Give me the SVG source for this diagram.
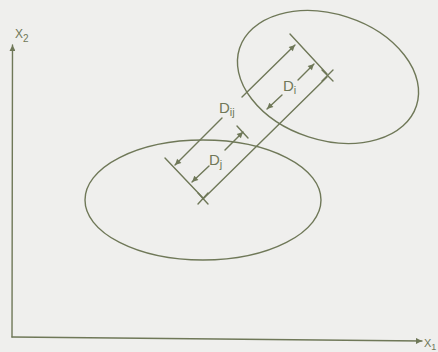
<svg xmlns="http://www.w3.org/2000/svg" width="438" height="352" viewBox="0 0 438 352">
<style>
.s{fill:none;stroke:#6f7858;stroke-width:1.4;stroke-linecap:round}
.t{fill:#6f7858;font-family:"Liberation Sans",Arial,sans-serif}
</style>
<defs>
<marker id="ah" viewBox="0 0 10 10" refX="10" refY="5" markerUnits="userSpaceOnUse" markerWidth="7" markerHeight="6" orient="auto">
<path d="M0,0 L10,5 L0,10 Z" fill="#6f7858"/>
</marker>
</defs>
<rect width="438" height="352" fill="#efefed"/>
<g id="axes">
<line class="s" x1="12" y1="337" x2="12.5" y2="45" marker-end="url(#ah)"/>
<line class="s" x1="12" y1="337" x2="422" y2="341" marker-end="url(#ah)"/>
<text class="t" x="15" y="38" font-size="12">X<tspan font-size="10" dy="4">2</tspan></text>
<text class="t" x="424" y="347" font-size="11">X<tspan font-size="9" dy="3">1</tspan></text>
</g>
<g id="cluster-i">
<ellipse class="s" cx="328" cy="77" rx="93" ry="63" transform="rotate(18 328 77)"/>
<line class="s" x1="322" y1="70" x2="333" y2="81"/>
<line class="s" x1="322" y1="81" x2="333" y2="70"/>
</g>
<g id="cluster-j">
<ellipse class="s" cx="203" cy="200" rx="118" ry="60"/>
<line class="s" x1="198" y1="193" x2="208" y2="204"/>
<line class="s" x1="198" y1="204" x2="208" y2="193"/>
</g>
<g id="connectors">
<line class="s" x1="327" y1="77" x2="203" y2="199"/>
<line class="s" x1="327" y1="74" x2="290" y2="34"/>
<line class="s" x1="203" y1="198" x2="165" y2="158"/>
<line class="s" x1="222" y1="118" x2="175" y2="165" marker-end="url(#ah)"/>
<line class="s" x1="242" y1="97" x2="295" y2="45" marker-end="url(#ah)"/>
<line class="s" x1="298" y1="80" x2="314" y2="64" marker-end="url(#ah)"/>
<line class="s" x1="282" y1="95" x2="267" y2="109" marker-end="url(#ah)"/>
<line class="s" x1="209" y1="166" x2="192" y2="182" marker-end="url(#ah)"/>
<line class="s" x1="225" y1="150" x2="243" y2="132" marker-end="url(#ah)"/>
<line class="s" x1="237" y1="126" x2="248" y2="138"/>
</g>
<g id="labels">
<text class="t" x="219" y="113" font-size="15">D<tspan font-size="11" dy="3">ij</tspan></text>
<text class="t" x="283" y="91" font-size="15">D<tspan font-size="11" dy="3">i</tspan></text>
<text class="t" x="209" y="165" font-size="15">D<tspan font-size="11" dy="3">j</tspan></text>
</g>
</svg>
